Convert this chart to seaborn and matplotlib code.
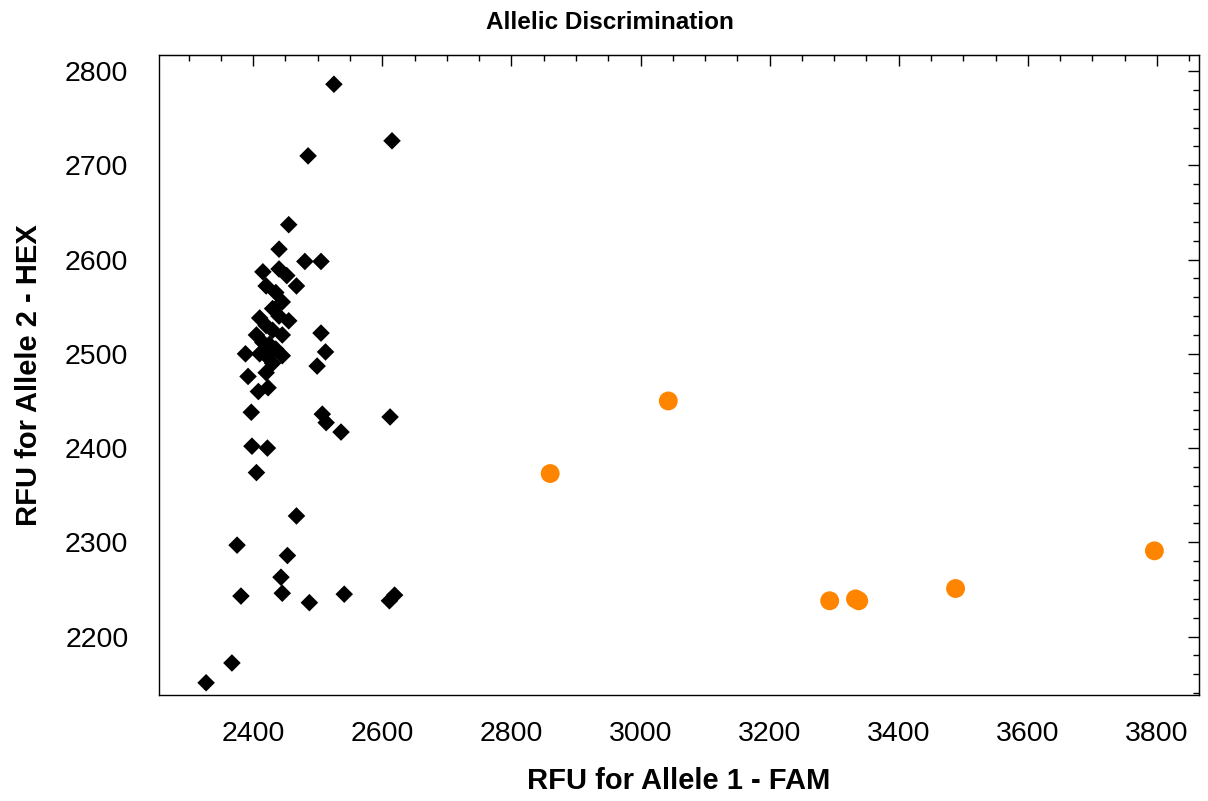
import numpy as np
import pandas as pd
import matplotlib
matplotlib.use("Agg")
import matplotlib.pyplot as plt
import seaborn as sns
from matplotlib.ticker import MultipleLocator

sns.set_style("white")
plt.rcParams["font.family"] = ["Liberation Sans", "DejaVu Sans"]
plt.rcParams["text.color"] = "black"
plt.rcParams["axes.labelcolor"] = "black"
plt.rcParams["xtick.color"] = "black"
plt.rcParams["ytick.color"] = "black"

# black diamonds (one allele call group)
fam_black = [2525, 2615, 2485, 2455, 2440, 2480, 2505, 2415, 2440, 2452,
             2420, 2467, 2435, 2445, 2430, 2440, 2455, 2410, 2420, 2430,
             2445, 2405, 2415, 2425, 2435, 2410, 2420, 2445, 2388, 2430,
             2420, 2392, 2408, 2423, 2505, 2512, 2499, 2397, 2507, 2513,
             2536, 2612, 2398, 2422, 2405, 2467, 2375, 2453, 2443, 2381,
             2445, 2487, 2541, 2611, 2619, 2367, 2327]
hex_black = [2786, 2726, 2710, 2637, 2611, 2598, 2598, 2587, 2590, 2583,
             2572, 2572, 2565, 2555, 2548, 2540, 2535, 2538, 2530, 2525,
             2520, 2520, 2512, 2510, 2505, 2500, 2498, 2498, 2500, 2490,
             2480, 2476, 2460, 2464, 2522, 2502, 2487, 2438, 2436, 2427,
             2417, 2433, 2402, 2400, 2374, 2328, 2297, 2286, 2263, 2243,
             2246, 2236, 2245, 2238, 2244, 2172, 2151]

# orange circles (the other group)
fam_orange = [2860, 3043, 3293, 3333, 3338, 3488, 3796]
hex_orange = [2373, 2450, 2238, 2240, 2238, 2251, 2291]

black = pd.DataFrame({"fam": fam_black, "hex": hex_black})
orange = pd.DataFrame({"fam": fam_orange, "hex": hex_orange})

fig = plt.figure(figsize=(12.08, 8.01), dpi=100)
ax = fig.add_axes([0.1316, 0.1323, 0.8609, 0.7990])

sns.scatterplot(data=black, x="fam", y="hex", marker="D", s=80,
                color="black", edgecolor="none", ax=ax)
sns.scatterplot(data=orange, x="fam", y="hex", marker="o", s=185,
                color="#ff8500", edgecolor="none", ax=ax)

ax.set_xlim(2254, 3865)
ax.set_ylim(2138, 2817)

ax.xaxis.set_major_locator(MultipleLocator(200))
ax.xaxis.set_minor_locator(MultipleLocator(50))
ax.yaxis.set_major_locator(MultipleLocator(100))
ax.yaxis.set_minor_locator(MultipleLocator(20))

ax.tick_params(which="both", direction="inout", top=False, right=False,
               colors="black", width=1)
ax.tick_params(which="major", length=16, labelsize=20.5)
ax.tick_params(axis="x", which="major", pad=11)
ax.tick_params(axis="y", which="major", pad=14)
ax.tick_params(which="minor", length=8.5)

# inward ticks on top and right
secx = ax.secondary_xaxis("top")
secx.xaxis.set_major_locator(MultipleLocator(200))
secx.xaxis.set_minor_locator(MultipleLocator(50))
secx.tick_params(which="both", direction="in", labeltop=False, width=1)
secx.tick_params(which="major", length=8)
secx.tick_params(which="minor", length=4)
secy = ax.secondary_yaxis("right")
secy.yaxis.set_major_locator(MultipleLocator(100))
secy.yaxis.set_minor_locator(MultipleLocator(20))
secy.tick_params(which="both", direction="in", labelright=False, width=1)
secy.tick_params(which="major", length=8)
secy.tick_params(which="minor", length=4)

for sp in ax.spines.values():
    sp.set_color("black")
    sp.set_linewidth(1)

ax.set_xlabel("RFU for Allele 1 - FAM", fontsize=21, fontweight="bold",
              labelpad=14)
ax.set_ylabel("RFU for Allele 2 - HEX", fontsize=21, fontweight="bold",
              labelpad=16)

fig.text(0.505, 1 - 29 / 801, "Allelic Discrimination", ha="center",
         va="baseline", fontsize=17.5, fontweight="bold")

fig.savefig("out.png", dpi=100)
